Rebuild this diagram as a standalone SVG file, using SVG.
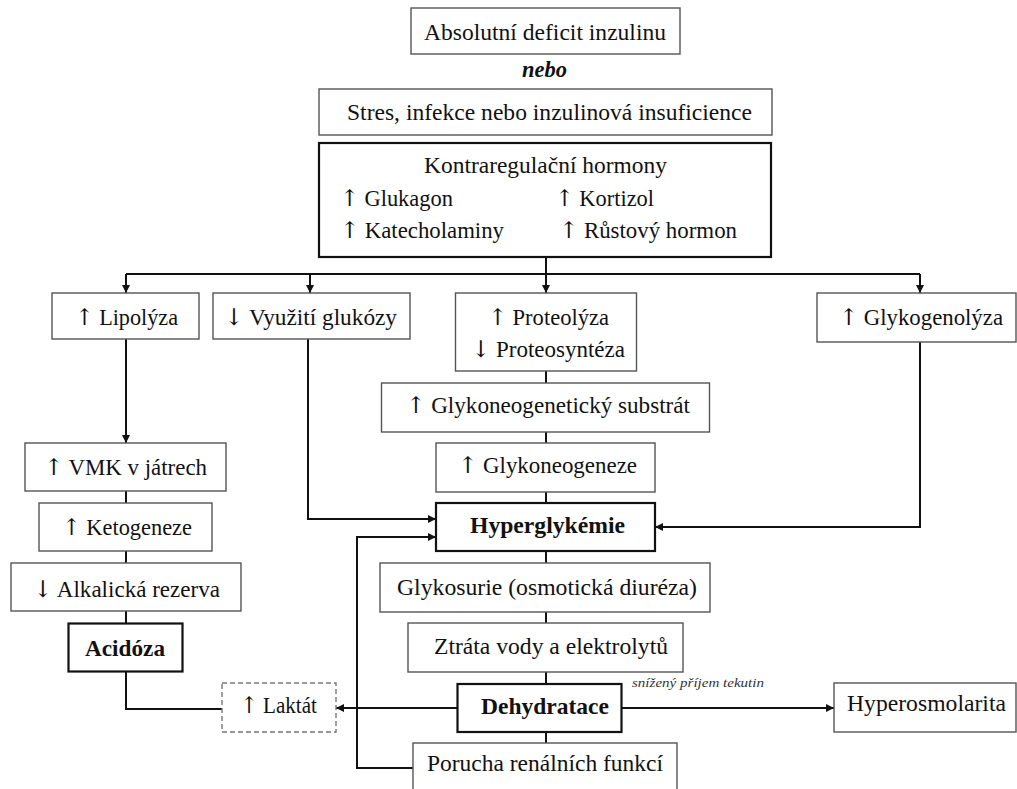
<svg xmlns="http://www.w3.org/2000/svg" width="1017" height="789" viewBox="0 0 1017 789">
<defs>
<marker id="arr" markerUnits="userSpaceOnUse" markerWidth="9" markerHeight="9" refX="8" refY="4" orient="auto">
<path d="M0,0 L8,4 L0,8 z" fill="#111"/>
</marker>
<style>
.b{fill:#fff;stroke:#555;stroke-width:1.4}
.k{fill:#fff;stroke:#111;stroke-width:2.2}
.d{fill:#fff;stroke:#777;stroke-width:1.4;stroke-dasharray:5,3}
.t{font-family:'Liberation Serif','DejaVu Serif',serif;font-size:23px;fill:#111}
.a{font-family:'DejaVu Serif','Liberation Serif',serif}
.bd{font-weight:bold}
.n{font-weight:bold;font-style:italic}
.s{font-size:12px;font-style:italic;fill:#333}
.c{fill:none;stroke:#111;stroke-width:2}
</style>
</defs>
<rect width="1017" height="789" fill="#fff"/>
<g id="connectors">
<path class="c" d="M546,257 V274"/>
<path class="c" d="M126,274 H920"/>
<path class="c" d="M126,274 V293" marker-end="url(#arr)"/>
<path class="c" d="M310,274 V293" marker-end="url(#arr)"/>
<path class="c" d="M546,274 V293" marker-end="url(#arr)"/>
<path class="c" d="M920,274 V293" marker-end="url(#arr)"/>
<path class="c" d="M126,339 V443" marker-end="url(#arr)"/>
<path class="c" d="M126,491 V503 M126,551 V563 M126,611 V623"/>
<path class="c" d="M126,672 V709 H222"/>
<path class="c" d="M546,371 V383 M546,432 V443 M546,492 V503 M546,551 V563 M546,612 V623 M546,672 V684 M546,732 V743"/>
<path class="c" d="M308,339 V519 H436" marker-end="url(#arr)"/>
<path class="c" d="M920,342 V527 H655" marker-end="url(#arr)"/>
<path class="c" d="M413,768 H357 V537 H436" marker-end="url(#arr)"/>
<path class="c" d="M457,708 H336" marker-end="url(#arr)"/>
<path class="c" d="M622,708 H834" marker-end="url(#arr)"/>
</g>
<g class="t" font-family="Liberation Serif, DejaVu Serif, serif" font-size="23">
<g id="absolutni"><rect class="b" x="411" y="8" width="269" height="46"/><text x="424" y="40" textLength="242" lengthAdjust="spacingAndGlyphs">Absolutní deficit inzulinu</text></g>
<g id="nebo"><text class="n" x="522" y="77" textLength="45" lengthAdjust="spacingAndGlyphs">nebo</text></g>
<g id="stres"><rect class="b" x="319" y="89" width="453" height="46"/><text x="347" y="120" textLength="405" lengthAdjust="spacingAndGlyphs">Stres, infekce nebo inzulinová insuficience</text></g>
<g id="kontra"><rect class="k" x="319" y="143" width="452" height="114"/>
<text x="424" y="173" textLength="243" lengthAdjust="spacingAndGlyphs">Kontraregulační hormony</text>
<text x="340" y="206" textLength="113" lengthAdjust="spacingAndGlyphs"><tspan class="a">↑</tspan> Glukagon</text>
<text x="555" y="206" textLength="99" lengthAdjust="spacingAndGlyphs"><tspan class="a">↑</tspan> Kortizol</text>
<text x="340" y="238" textLength="164" lengthAdjust="spacingAndGlyphs"><tspan class="a">↑</tspan> Katecholaminy</text>
<text x="559" y="238" textLength="178" lengthAdjust="spacingAndGlyphs"><tspan class="a">↑</tspan> Růstový hormon</text></g>
<g id="lipolyza"><rect class="b" x="52" y="293" width="147" height="46"/><text x="75" y="325" textLength="103" lengthAdjust="spacingAndGlyphs"><tspan class="a">↑</tspan> Lipolýza</text></g>
<g id="vyuziti"><rect class="b" x="213" y="293" width="197" height="46"/><text x="224" y="325" textLength="173" lengthAdjust="spacingAndGlyphs"><tspan class="a">↓</tspan> Využití glukózy</text></g>
<g id="proteolyza"><rect class="b" x="455.5" y="293" width="181" height="78"/><text x="488" y="325" textLength="121" lengthAdjust="spacingAndGlyphs"><tspan class="a">↑</tspan> Proteolýza</text><text x="471" y="357" textLength="154" lengthAdjust="spacingAndGlyphs"><tspan class="a">↓</tspan> Proteosyntéza</text></g>
<g id="glykogenolyza"><rect class="b" x="817" y="293" width="199" height="49"/><text x="839" y="325" textLength="164" lengthAdjust="spacingAndGlyphs"><tspan class="a">↑</tspan> Glykogenolýza</text></g>
<g id="substrat"><rect class="b" x="381.5" y="383" width="328" height="49"/><text x="406" y="413" textLength="284" lengthAdjust="spacingAndGlyphs"><tspan class="a">↑</tspan> Glykoneogenetický substrát</text></g>
<g id="vmk"><rect class="b" x="25" y="443" width="201" height="48"/><text x="44" y="475" textLength="163" lengthAdjust="spacingAndGlyphs"><tspan class="a">↑</tspan> VMK v játrech</text></g>
<g id="glykoneogeneze"><rect class="b" x="436" y="443" width="219" height="49"/><text x="458" y="473" textLength="179" lengthAdjust="spacingAndGlyphs"><tspan class="a">↑</tspan> Glykoneogeneze</text></g>
<g id="hyperglykemie"><rect class="k" x="436" y="503" width="219" height="48"/><text class="bd" x="470" y="533" textLength="155" lengthAdjust="spacingAndGlyphs">Hyperglykémie</text></g>
<g id="ketogeneze"><rect class="b" x="39" y="503" width="173" height="48"/><text x="62" y="535" textLength="130" lengthAdjust="spacingAndGlyphs"><tspan class="a">↑</tspan> Ketogeneze</text></g>
<g id="glykosurie"><rect class="b" x="380" y="563" width="330" height="49"/><text x="397" y="595" textLength="300" lengthAdjust="spacingAndGlyphs">Glykosurie (osmotická diuréza)</text></g>
<g id="alkalicka"><rect class="b" x="11" y="563" width="230" height="48"/><text x="33" y="597" textLength="187" lengthAdjust="spacingAndGlyphs"><tspan class="a">↓</tspan> Alkalická rezerva</text></g>
<g id="ztrata"><rect class="b" x="408" y="623" width="275" height="49"/><text x="434" y="654" textLength="234" lengthAdjust="spacingAndGlyphs">Ztráta vody a elektrolytů</text></g>
<g id="acidoza"><rect class="k" x="68.5" y="623.5" width="114" height="48"/><text class="bd" x="85" y="656" textLength="80" lengthAdjust="spacingAndGlyphs">Acidóza</text></g>
<g id="laktat"><rect class="d" x="222" y="683" width="114" height="49"/><text x="240" y="713" textLength="77" lengthAdjust="spacingAndGlyphs"><tspan class="a">↑</tspan> Laktát</text></g>
<g id="dehydratace"><rect class="k" x="457.5" y="684" width="164" height="48"/><text class="bd" x="481" y="714" textLength="128" lengthAdjust="spacingAndGlyphs">Dehydratace</text></g>
<g id="snizeny"><text class="s" x="632" y="687" textLength="132" lengthAdjust="spacingAndGlyphs">snížený příjem tekutin</text></g>
<g id="hyperosmolarita"><rect class="b" x="834" y="683" width="182" height="49"/><text x="847" y="711" textLength="159" lengthAdjust="spacingAndGlyphs">Hyperosmolarita</text></g>
<g id="porucha"><rect class="b" x="413" y="743" width="264" height="52"/><text x="427" y="771" textLength="236" lengthAdjust="spacingAndGlyphs">Porucha renálních funkcí</text></g>
</g>
</svg>
